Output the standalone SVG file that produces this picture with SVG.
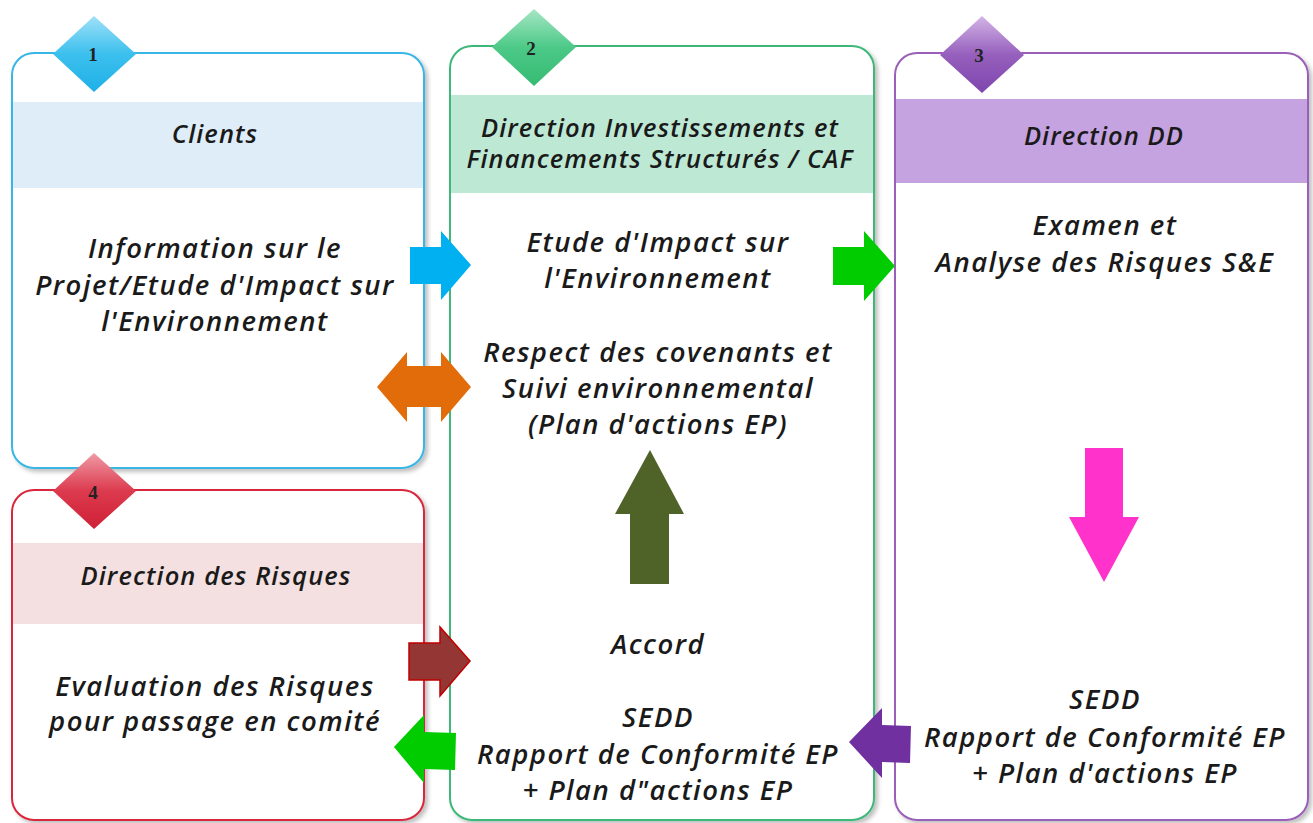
<svg xmlns="http://www.w3.org/2000/svg" width="1313" height="823" viewBox="0 0 1313 823">
<style>
.t{font-family:"Open Sans","Lato","Liberation Sans",sans-serif;font-style:italic;font-weight:600;fill:#1a1a1a;text-anchor:middle}
.b{font-size:27.5px;letter-spacing:1.5px}
.h{font-size:25.5px;letter-spacing:1.1px}
.n{font-family:"Liberation Serif","DejaVu Serif",serif;font-weight:bold;font-size:19px;fill:#222;text-anchor:middle}
.box{fill:#fff;stroke-width:2}
</style>
<defs>
<filter id="sh" x="-5%" y="-5%" width="115%" height="115%">
<feDropShadow dx="3" dy="3" stdDeviation="2" flood-color="#000" flood-opacity="0.25"/>
</filter>
<linearGradient id="g1" x1="0" y1="0" x2="0" y2="1"><stop offset="0" stop-color="#9fe0f8"/><stop offset="0.5" stop-color="#3cc0ee"/><stop offset="1" stop-color="#1fb0e6"/></linearGradient>
<linearGradient id="g2" x1="0" y1="0" x2="0" y2="1"><stop offset="0" stop-color="#a6e6c4"/><stop offset="0.5" stop-color="#4cc987"/><stop offset="1" stop-color="#35bb74"/></linearGradient>
<linearGradient id="g3" x1="0" y1="0" x2="0" y2="1"><stop offset="0" stop-color="#d3b4e6"/><stop offset="0.5" stop-color="#9660bd"/><stop offset="1" stop-color="#7e45ad"/></linearGradient>
<linearGradient id="g4" x1="0" y1="0" x2="0" y2="1"><stop offset="0" stop-color="#f09aa5"/><stop offset="0.5" stop-color="#dc3a4e"/><stop offset="1" stop-color="#cf2036"/></linearGradient>
</defs>

<g id="node1">
<rect class="box" x="12" y="53" width="412" height="415" rx="22" stroke="#39b6e6" filter="url(#sh)"/>
<rect x="13" y="102" width="410" height="86" fill="#dfedf9"/>
<path d="M94 16 L136 54 L94 92 L53 54 Z" fill="url(#g1)"/>
<text class="n" x="93" y="61">1</text>
<text class="t h" x="215" y="143">Clients</text>
<text class="t b" x="215" y="258">Information sur le</text>
<text class="t b" x="215" y="295">Projet/Etude d'Impact sur</text>
<text class="t b" x="215" y="331">l'Environnement</text>
</g>

<g id="node2">
<rect class="box" x="450" y="46" width="424" height="774" rx="22" stroke="#3cb878" filter="url(#sh)"/>
<rect x="451" y="95" width="422" height="98" fill="#bde9d4"/>
<path d="M534 9 L576 47 L534 86 L492 47 Z" fill="url(#g2)"/>
<text class="n" x="531" y="55">2</text>
<text class="t h" x="660" y="137">Direction Investissements et</text>
<text class="t h" x="660" y="168">Financements Structurés / CAF</text>
<text class="t b" x="658" y="252">Etude d'Impact sur</text>
<text class="t b" x="658" y="288">l'Environnement</text>
<text class="t b" x="658" y="362">Respect des covenants et</text>
<text class="t b" x="658" y="398">Suivi environnemental</text>
<text class="t b" x="658" y="434">(Plan d'actions EP)</text>
<text class="t b" x="658" y="654">Accord</text>
<text class="t b" x="658" y="727">SEDD</text>
<text class="t b" x="658" y="764">Rapport de Conformité EP</text>
<text class="t b" x="658" y="800">+ Plan d"actions EP</text>
</g>

<g id="node3">
<rect class="box" x="895" y="53" width="413" height="767" rx="22" stroke="#9a5fb8" filter="url(#sh)"/>
<rect x="896" y="99" width="411" height="84" fill="#c5a2e0"/>
<path d="M982 16 L1024 55 L982 93 L940 55 Z" fill="url(#g3)"/>
<text class="n" x="979" y="62">3</text>
<text class="t h" x="1104" y="145">Direction DD</text>
<text class="t b" x="1105" y="235">Examen et</text>
<text class="t b" x="1105" y="272">Analyse des Risques S&amp;E</text>
<text class="t b" x="1105" y="709">SEDD</text>
<text class="t b" x="1105" y="747">Rapport de Conformité EP</text>
<text class="t b" x="1105" y="783">+ Plan d'actions EP</text>
</g>

<g id="node4">
<rect class="box" x="12" y="490" width="412" height="330" rx="22" stroke="#d9283c" filter="url(#sh)"/>
<rect x="13" y="543" width="410" height="81" fill="#f4e0e0"/>
<path d="M94 453 L136 491 L94 529 L53 491 Z" fill="url(#g4)"/>
<text class="n" x="93" y="499">4</text>
<text class="t h" x="216" y="585">Direction des Risques</text>
<text class="t b" x="215" y="696">Evaluation des Risques</text>
<text class="t b" x="215" y="731">pour passage en comité</text>
</g>

<g id="connectors">
<path d="M410 247 L441 247 L441 231 L471 265 L441 300 L441 284 L410 284 Z" fill="#00b0f0"/>
<path d="M833 247 L864 247 L864 231 L895 266 L864 301 L864 285 L833 285 Z" fill="#00cc00"/>
<path d="M377 387 L407 352 L407 366 L441 366 L441 352 L471 387 L441 422 L441 407 L407 407 L407 422 Z" fill="#e36c0a"/>
<path d="M409 643 L440 643 L440 627 L470 661 L440 696 L440 680 L409 680 Z" fill="#943634" stroke="#c00000" stroke-width="1.5"/>
<path d="M394 747 L424 715 L424 732 L456 733 L455 770 L424 769 L424 783 Z" fill="#00cc00"/>
<path d="M849 742 L882 708 L882 725 L911 726 L910 763 L882 762 L882 778 Z" fill="#7030a0"/>
<path d="M650 450 L684 514 L669 514 L669 584 L630 584 L630 514 L615 514 Z" fill="#4f6228"/>
<path d="M1085 448 L1123 448 L1123 517 L1139 517 L1104 582 L1069 517 L1085 517 Z" fill="#ff33cc"/>
</g>
</svg>
